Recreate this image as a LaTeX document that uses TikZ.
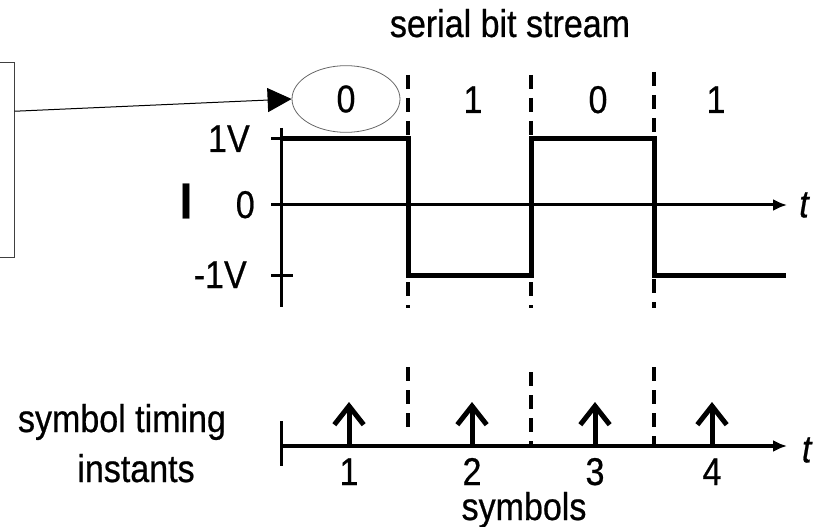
\documentclass[tikz,border=0pt]{standalone}
\usepackage{fontspec}
\setmainfont{Liberation Sans}[FakeStretch=0.88, FakeBold=0.6]
\usetikzlibrary{arrows.meta, positioning, shapes.geometric, calc}

\begin{document}
\begin{tikzpicture}[
    x=0.75pt, y=-0.75pt,
    % === STYLES ===
    txt/.style={
        font=\fontsize{29}{34}\selectfont,
        inner sep=0pt,
        anchor=base
    },
    srcbox/.style={
        rectangle,
        draw=black!75,
        line width=0.75pt,
        minimum width=90pt,
        minimum height=145.5pt
    },
    bitoval/.style={
        ellipse,
        draw=black!60,
        line width=0.6pt,
        minimum width=81pt,
        minimum height=50pt,
        inner sep=0pt,
        font=\fontsize{29}{34}\selectfont
    },
    pointer/.style={
        -{Triangle[length=18pt,width=18pt]},
        line width=0.75pt
    },
    axis/.style={
        -{Latex[length=10.5pt,width=9pt]},
        line width=2.25pt
    },
    taxis/.style={
        -{Latex[length=10.5pt,width=9pt]},
        line width=3.5pt
    },
    tick/.style={
        line width=2.25pt
    },
    signal/.style={
        line width=3.75pt,
        line join=miter
    },
    divider/.style={
        line width=3pt,
        dash pattern=on 10.5pt off 6.75pt
    },
    instant/.style={
        -{Straight Barb[length=14pt,width=22pt]},
        line width=3.75pt
    },
    tlabel/.style={
        font=\fontsize{29}{34}\selectfont\itshape,
        inner sep=0pt
    }
]
\useasboundingbox (0,0) rectangle (823,527);
\clip (0,0) rectangle (823,527);

% === BIT STREAM ===
\node[txt] (title) at (510,37) {serial bit stream};
\node[bitoval] (bit0) at (346,99) {0};
\node[txt] (bit1) at (473,113) {1};
\node[txt] (bit2) at (598,113) {0};
\node[txt] (bit3) at (716,113) {1};

% Source box (cut by the left edge)
\node[srcbox] (src) at (-46,160) {};
\draw[pointer] ($(src.north east)!0.25!(src.south east)$) -- (bit0.west);

% === BIT BOUNDARIES ===
\draw[divider] (408,75) -- (408,308);
\draw[divider] (531,75) -- (531,308);
\draw[divider] (654,72) -- (654,308);

\draw[divider] (408,367) -- (408,434);
\draw[divider] (531,372) -- (531,446);
\draw[divider] (654,367) -- (654,446);

% === I WAVEFORM ===
\draw[tick] (281,128) -- (281,307);
\draw[tick] (271,139) -- (281,139);
\draw[tick] (271,275) -- (293,275);
\coordinate (iend) at (787,205);
\draw[axis] (271,205) -- (iend);
\node[tlabel, right=9pt of iend] (ti) {t};

\draw[signal] (281,139) -- (408,139) -- (408,275) -- (531,275)
    -- (531,139) -- (654,139) -- (654,275) -- (786,275);

% Levels
\node[txt, anchor=base east] (vhigh) at (250,152) {1V};
\node[txt, anchor=base east] (vzero) at (255,218) {0};
\node[txt, anchor=base east] (vlow) at (247,288) {-1V};
\node[font=\fontsize{38}{40}\selectfont\bfseries, inner sep=0pt] (ilabel) at (186,201) {I};

% === SYMBOL TIMING ===
\draw[tick] (281,421) -- (281,466);
\coordinate (tend) at (787,446);
\draw[taxis] (281,446) -- (tend);
\node[tlabel, right=11pt of tend, yshift=-3pt] (tt) {t};

\draw[instant] (349,446) -- (349,402);
\draw[instant] (472,446) -- (472,402);
\draw[instant] (595,446) -- (595,402);
\draw[instant] (712,446) -- (712,402);

% Symbol numbers
\node[txt] (sym1) at (349,485) {1};
\node[txt] (sym2) at (472,485) {2};
\node[txt] (sym3) at (595,485) {3};
\node[txt] (sym4) at (712,485) {4};
\node[txt] (symbols) at (524,520) {symbols};

\node[txt] (timing) at (122,432) {symbol timing};
\node[txt] (instants) at (136,482) {instants};

\end{tikzpicture}
\end{document}
